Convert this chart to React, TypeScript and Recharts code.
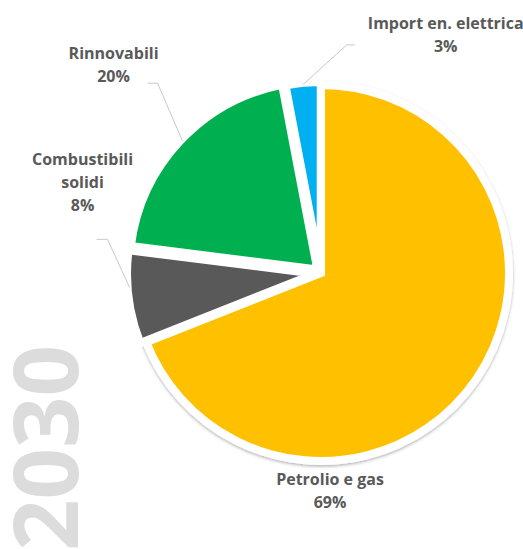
import React from "react";
import { PieChart, Pie, Cell, Sector } from "recharts";

const categories = ["Petrolio e gas", "Combustibili solidi", "Rinnovabili", "Import en. elettrica"];
const shares = [69, 8, 20, 3];
const labelLines = [["Petrolio e gas"], ["Combustibili", "solidi"], ["Rinnovabili"], ["Import en. elettrica"]];
const colors = ["#FFC000", "#595959", "#00B050", "#00B0F0"];
const yearLabel = "2030";

const data = categories.map((name, i) => ({ name, value: shares[i] }));

const WIDTH = 523;
const HEIGHT = 549;
const RADIAN = Math.PI / 180;
const TEXT = "#595959";
const LEADER = "#c8c8c8";
const FONT = "'Open Sans', 'DejaVu Sans', sans-serif";

// how far each slice is pulled out from the centre
const explodeBy = [0, 6, 5, 3];

// per-slice label placement, relative to where the leader starts on the rim
// start: nudge of the rim point, elbow: leader bend, tail: horizontal stub,
// text: centre x / first baseline from stub end
const labelLayout: Record<
  string,
  { line: boolean; start: [number, number]; elbow: [number, number]; tail: number; text: [number, number] }
> = {
  "Petrolio e gas": { line: false, start: [0, 0], elbow: [0, 0], tail: 0, text: [9, 24] },
  "Combustibili solidi": { line: true, start: [1, -10], elbow: [-22, -48], tail: -11, text: [-14, -74] },
  Rinnovabili: { line: true, start: [3, 1], elbow: [-25, -58], tail: -10, text: [-34, -24] },
  "Import en. elettrica": { line: true, start: [0, 5], elbow: [44, -40], tail: 8, text: [91, -16] },
};

const explode = (props: any, index: number) => {
  const off = explodeBy[index] ?? 0;
  const dx = Math.cos(props.midAngle * RADIAN) * off;
  const dy = -Math.sin(props.midAngle * RADIAN) * off;
  const sector = <Sector {...props} cx={props.cx + dx} cy={props.cy + dy} />;
  return index === 0 ? <g filter="url(#pieShadow)">{sector}</g> : sector;
};

const renderLabel = (props: any) => {
  const { cx, cy, midAngle, outerRadius, index, value } = props;
  const name = categories[index];
  const lay = labelLayout[name];
  const rim = index === 0 ? outerRadius : outerRadius + 6;
  const sx = cx + Math.cos(-midAngle * RADIAN) * rim + lay.start[0];
  const sy = cy + Math.sin(-midAngle * RADIAN) * rim + lay.start[1];
  const ex = sx + lay.elbow[0];
  const ey = sy + lay.elbow[1];
  const hx = ex + lay.tail;
  const tx = index === 0 ? cx + lay.text[0] : hx + lay.text[0];
  const ty = index === 0 ? cy + outerRadius + lay.text[1] : ey + lay.text[1];
  const lines = [...labelLines[index], `${value}%`];
  return (
    <g key={`lbl-${index}`}>
      {lay.line && (
        <polyline
          points={`${sx},${sy} ${ex},${ey} ${hx},${ey}`}
          fill="none"
          stroke={LEADER}
          strokeWidth={1}
        />
      )}
      <text x={tx} y={ty} textAnchor="middle" fill={TEXT} fontFamily={FONT} fontWeight={700} fontSize={16}>
        {lines.map((l, i) => (
          <tspan key={i} x={tx} dy={i === 0 ? 0 : 23}>
            {l}
          </tspan>
        ))}
      </text>
    </g>
  );
};

export default function App() {
  return (
    <div style={{ position: "absolute", left: 0, top: 0, width: WIDTH, height: HEIGHT, background: "#fff" }}>
      <svg width={WIDTH} height={HEIGHT} style={{ position: "absolute", left: 0, top: 0 }}>
        <text
          transform="translate(78, 345) rotate(-90)"
          textAnchor="end"
          fill="#dcdcdc"
          fontFamily={FONT}
          fontWeight={700}
          fontSize={90}
        >
          {yearLabel}
        </text>
      </svg>
      <div style={{ position: "absolute", left: 0, top: 0 }}>
        <PieChart width={WIDTH} height={HEIGHT}>
          <defs>
            <filter id="pieShadow" x="-20%" y="-20%" width="140%" height="140%">
              <feDropShadow dx={0} dy={1.5} stdDeviation={1.5} floodColor="#000" floodOpacity={0.3} />
            </filter>
          </defs>
          <Pie
            data={data}
            dataKey="value"
            nameKey="name"
            cx={316}
            cy={268}
            outerRadius={188}
            startAngle={90}
            endAngle={-270}
            stroke="#fff"
            strokeWidth={8}
            shape={explode}
            label={renderLabel}
            labelLine={false}
            isAnimationActive={false}
          >
            {data.map((d, i) => (
              <Cell key={d.name} fill={colors[i]} />
            ))}
          </Pie>
        </PieChart>
      </div>
    </div>
  );
}
